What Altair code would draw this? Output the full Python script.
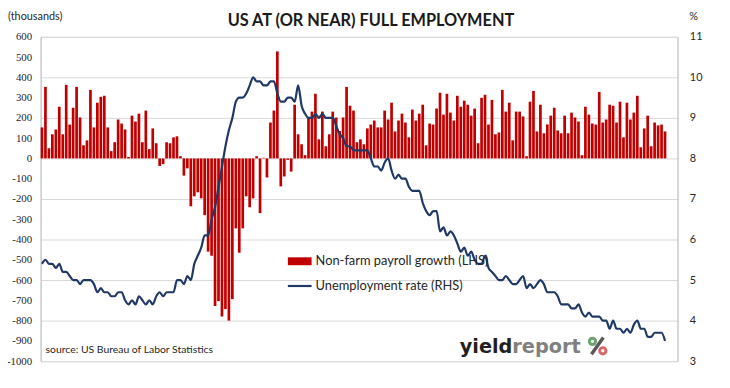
import altair as alt
import pandas as pd

# Non-farm payroll growth, thousands, monthly Sep-04 .. Sep-19
payroll = [
    153, 353, 50, 119,
    143, 255, 119, 363, 167, 250, 353, 202, 65, 89, 338, 153,
    275, 304, 309, 153, 36, 80, 192, 172, 143, 7, 211, 182,
    221, 80, 236, 46, 148, 75, -37, -28, 80, 75, 104, 109,
    11, -85, -49, -236, -187, -167, -197, -280, -460, -480, -728, -704,
    -780, -743, -800, -694, -345, -465, -345, -187, -241, -197, 11, -270,
    3, -94, 177, 236, 528, -138, -89, -7, -65, 265, 119, 70,
    16, 202, 231, 319, 94, 231, 60, 119, 231, 202, 135, 202,
    353, 260, 236, 80, 94, 70, 148, 167, 187, 153, 153, 236,
    192, 275, 133, 187, 221, 177, 104, 241, 187, 221, 265, 65,
    172, 167, 246, 324, 216, 319, 226, 187, 309, 255, 285, 265,
    211, 246, 75, 299, 314, 167, 289, 119, 128, 338, 231, 275,
    89, 231, 231, 207, 11, 280, 333, 133, 265, 124, 167, 211,
    250, 138, 124, 211, 124, 226, 202, 182, 16, 255, 216, 172,
    167, 328, 177, 192, 265, 260, 177, 280, 104, 275, 192, 226,
    309, 55, 148, 211, 60, 177, 163, 167, 133,
]

# Unemployment rate, %, monthly Sep-04 .. Sep-19
unemp = [
    5.4, 5.5, 5.4, 5.4,
    5.3, 5.4, 5.2, 5.2, 5.1, 5.0, 5.0, 4.9, 5.0, 5.0, 5.0, 4.9,
    4.7, 4.8, 4.7, 4.7, 4.6, 4.6, 4.7, 4.7, 4.5, 4.4, 4.5, 4.4,
    4.6, 4.5, 4.4, 4.5, 4.4, 4.6, 4.7, 4.6, 4.7, 4.7, 4.7, 5.0,
    5.0, 4.9, 5.1, 5.0, 5.4, 5.6, 5.8, 6.1, 6.1, 6.5, 6.8, 7.3,
    7.8, 8.3, 8.7, 9.0, 9.4, 9.5, 9.5, 9.6, 9.8, 10.0, 9.9, 9.9,
    9.8, 9.8, 9.9, 9.9, 9.6, 9.4, 9.4, 9.5, 9.5, 9.4, 9.8, 9.3,
    9.1, 9.0, 9.0, 9.1, 9.0, 9.1, 9.0, 9.0, 9.0, 8.8, 8.6, 8.5,
    8.3, 8.3, 8.2, 8.2, 8.2, 8.2, 8.2, 8.0, 7.8, 7.8, 7.7, 7.9,
    8.0, 7.7, 7.5, 7.6, 7.5, 7.5, 7.3, 7.2, 7.2, 7.2, 6.9, 6.7,
    6.6, 6.7, 6.7, 6.2, 6.3, 6.1, 6.2, 6.1, 5.9, 5.7, 5.8, 5.6,
    5.7, 5.5, 5.4, 5.4, 5.6, 5.3, 5.2, 5.1, 5.0, 5.0, 5.1, 5.0,
    4.9, 4.9, 5.0, 5.1, 4.8, 4.9, 4.8, 4.9, 5.0, 4.9, 4.7, 4.7,
    4.7, 4.6, 4.4, 4.4, 4.4, 4.3, 4.3, 4.4, 4.2, 4.1, 4.2, 4.1,
    4.1, 4.1, 4.0, 4.0, 3.8, 4.0, 3.8, 3.8, 3.7, 3.8, 3.7, 3.9,
    4.0, 3.8, 3.8, 3.6, 3.6, 3.7, 3.7, 3.7, 3.5,
]

x_labels = ["Sep-04", "Sep-05", "Sep-06", "Sep-07", "Sep-08", "Sep-09", "Sep-10",
            "Sep-11", "Sep-12", "Sep-13", "Sep-14", "Sep-15", "Sep-16", "Sep-17",
            "Sep-18", "Sep-19"]
left_ticks = list(range(-1000, 601, 100))
right_ticks = list(range(3, 12))

df = pd.DataFrame({"m": list(range(len(payroll))), "payroll": payroll, "unemp": unemp})

W, H = 644, 328
FONT = "Lato"
NARROW = "Liberation Sans Narrow"
GRID = "#D9D9D9"
AXIS = "#BFBFBF"
TXT = "#262626"
RED = "#C00000"
NAVY = "#1F3864"

xscale = alt.Scale(domain=[0, 184], nice=False, zero=False)
label_expr = "[" + ",".join("'%s'" % s for s in x_labels) + "][round(datum.value/12)]"

bars = alt.Chart(df).transform_calculate(
    x0="datum.m", x1="datum.m + 0.78", zero="0"
).mark_rect(color=RED).encode(
    x=alt.X("x0:Q", scale=xscale, title=None,
            axis=alt.Axis(values=list(range(0, 181, 12)), labelExpr=label_expr,
                          grid=False, ticks=True, tickSize=4, tickColor=AXIS,
                          domainColor=AXIS, labelPadding=4, labelFont=FONT,
                          labelFontSize=11, labelColor=TXT)),
    x2="x1:Q",
    y=alt.Y("payroll:Q", scale=alt.Scale(domain=[-1000, 600], nice=False), title=None,
            axis=alt.Axis(values=left_ticks, labelExpr="toString(datum.value)",
                          grid=False, ticks=False, tickSize=0,
                          domainColor=AXIS, labelPadding=9, labelFont=NARROW,
                          labelFontSize=11, labelColor=TXT)),
    y2="zero:Q",
)

line = alt.Chart(df).transform_calculate(
    xm="datum.m + 0.4"
).mark_line(color=NAVY, strokeWidth=2.2, interpolate="monotone").encode(
    x=alt.X("xm:Q", scale=xscale, axis=None),
    y=alt.Y("unemp:Q", scale=alt.Scale(domain=[3, 11], nice=False, zero=False), title=None,
            axis=alt.Axis(orient="right", values=right_ticks, grid=True, gridColor=GRID,
                          ticks=False, tickSize=0, domainColor=AXIS, labelPadding=12,
                          labelFont=FONT, labelFontSize=11, labelColor=TXT)),
)

one = pd.DataFrame({"k": [0]})


def txt(s, x, y, size, color=TXT, weight="normal", align="left", baseline="middle", font=FONT):
    return alt.Chart(one).mark_text(text=s, font=font, fontSize=size, color=color,
                                    fontWeight=weight, align=align,
                                    baseline=baseline).encode(x=alt.value(x), y=alt.value(y))


title = txt("US AT (OR NEAR) FULL EMPLOYMENT", 334, -11, 16.5, color="#1A1A1A",
            weight="bold", align="center", baseline="alphabetic")
thousands = txt("(thousands)", -33, -20, 11)
pct = txt("%", 656, -20, 11)
source = txt("source: US Bureau of Labor Statistics", 5, 317, 10.5)

leg_rect = alt.Chart(one).mark_rect(color=RED).encode(
    x=alt.value(250), x2=alt.value(274), y=alt.value(223), y2=alt.value(231))
leg_line = alt.Chart(one).mark_rule(color=NAVY, strokeWidth=2.2).encode(
    x=alt.value(250), x2=alt.value(274), y=alt.value(252))
leg_t1 = txt("Non-farm payroll growth (LHS)", 278, 227, 13)
leg_t2 = txt("Unemployment rate (RHS)", 278, 252, 13)

logo1 = txt("yield", 477, 320, 19.5, color="#231F20", weight="bold", align="right",
            baseline="alphabetic", font="DejaVu Sans")
logo2 = txt("report", 477, 320, 19.5, color="#808080", weight="bold",
            baseline="alphabetic", font="DejaVu Sans")
slash = alt.Chart(one).mark_rule(color="#595959", strokeWidth=3.5).encode(
    x=alt.value(557), x2=alt.value(569), y=alt.value(321), y2=alt.value(304))
dot_g = alt.Chart(one).mark_point(color="#2E7D32", filled=False, strokeWidth=3, size=40).encode(
    x=alt.value(558), y=alt.value(308))
dot_r = alt.Chart(one).mark_point(color="#C62828", filled=False, strokeWidth=3, size=40).encode(
    x=alt.value(568.5), y=alt.value(317.5))

chart = alt.layer(
    bars, line, title, thousands, pct, source, leg_rect, leg_line, leg_t1, leg_t2,
    logo1, logo2, slash, dot_g, dot_r
).resolve_scale(y="independent").properties(
    width=W, height=H, autosize="none",
    padding={"left": 33, "top": 27, "right": 45, "bottom": 21},
).configure_view(stroke=None).configure(background="white")

chart.save("out.html", embed_options={"renderer": "svg", "actions": False})
